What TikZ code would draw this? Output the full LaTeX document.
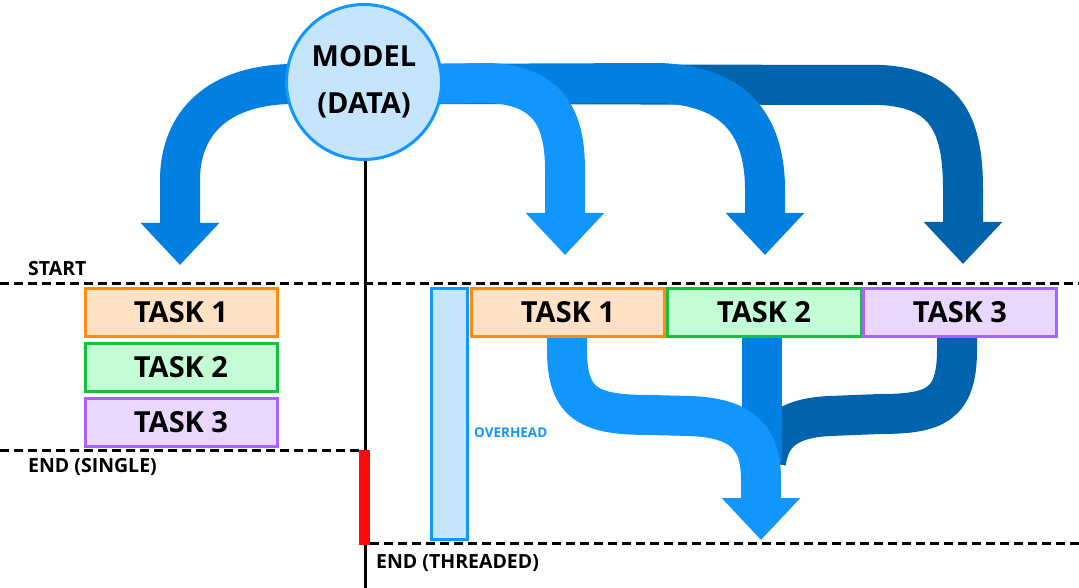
\documentclass[tikz,border=0pt]{standalone}
\usepackage{fontspec}
\setmainfont{Open Sans}
\usetikzlibrary{arrows.meta}
\definecolor{blueL}{HTML}{1195FF}
\definecolor{blueM}{HTML}{0280E2}
\definecolor{blueD}{HTML}{0063AE}
\definecolor{paleblue}{HTML}{C5E5FC}
\definecolor{edgeblue}{HTML}{1296FF}
\definecolor{orangeF}{HTML}{FFE1C5}
\definecolor{orangeB}{HTML}{FF8A14}
\definecolor{greenF}{HTML}{C3FDD5}
\definecolor{greenB}{HTML}{13C13E}
\definecolor{purpleF}{HTML}{E9D7FF}
\definecolor{purpleB}{HTML}{A863FF}
\definecolor{redbar}{HTML}{FF0A0A}
\tikzset{
  band/.style={line width=40pt},
  bandtip/.style={band,-{Triangle[length=42pt,width=76pt]}},
  taskbox/.style={draw,line width=3pt,inner sep=0pt,minimum height=48pt,font=\bfseries\fontsize{29}{29}\selectfont},
  dashline/.style={line width=3pt,dash pattern=on 9pt off 5pt},
  lbl/.style={font=\bfseries\fontsize{19.5}{19.5}\selectfont,anchor=base west,inner sep=0pt}
}
\begin{document}
\begin{tikzpicture}[x=1pt,y=-1pt]
\useasboundingbox (0,0) rectangle (1079,588);
% top bands
\coordinate (src) at (400,84);
\draw[bandtip,blueD] (src) -- (880,85) .. controls (950,88) and (963,130) .. (963,190) -- (963,264);
\draw[bandtip,blueM] (src) -- (660,83) .. controls (730,86) and (765,120) .. (765,190) -- (765,255);
\draw[bandtip,blueL] (src) -- (490,83) .. controls (550,86) and (565,120) .. (565,170) -- (565,255);
\draw[bandtip,blueM] (330,84) -- (290,84) .. controls (210,86) and (180,130) .. (180,180) -- (180,265);
% black line
\draw[line width=3pt] (365,160) coordinate (ltop) -- (365,588) coordinate (lbot);
% circle
\node[circle,draw=edgeblue,fill=paleblue,line width=3pt,minimum size=155pt,inner sep=0pt,
      font=\bfseries\fontsize{29}{47}\selectfont,align=center] (model) at (364,82) {MODEL\\(DATA)};
% dashed lines
\draw[dashline] (0,283) coordinate (s0) -- (1079,283) coordinate (s1);
\draw[dashline] (0,450) coordinate (e0) -- (362,450) coordinate (e1);
\draw[dashline] (370,543) coordinate (t0) -- (1079,543) coordinate (t1);
% red bar
\fill[redbar] (359,450) rectangle (370,545);
% labels
\node[lbl] (start) at (28,275) {START};
\node[lbl] (ends) at (28,472) {END (SINGLE)};
\node[lbl] (endt) at (376,568) {END (THREADED)};
% left tasks
\node[taskbox,draw=orangeB,fill=orangeF,minimum width=192pt] (l1) at (181,312) {TASK 1};
\node[taskbox,draw=greenB,fill=greenF,minimum width=192pt] (l2) at (181,367) {TASK 2};
\node[taskbox,draw=purpleB,fill=purpleF,minimum width=192pt] (l3) at (181,422) {TASK 3};
% overhead
\node[draw=edgeblue,fill=paleblue,line width=3pt,minimum width=36pt,minimum height=251pt,inner sep=0pt] (ovh) at (449,413.5) {};
\node[font=\bfseries\fontsize{13.5}{13.5}\selectfont,text=edgeblue,anchor=base west,inner sep=0pt] (ovt) at (474,437) {OVERHEAD};
% merge bands
\draw[band,blueD] (957,330) -- (957,350) .. controls (957,405) and (935,414) .. (880,414) -- (830,416) .. controls (785,418) and (770,435) .. (766,462);
\draw[band,blueM] (762,330) -- (762,462);
\draw[bandtip,blueL] (567,330) -- (567,350) .. controls (567,405) and (590,415) .. (650,415) -- (690,416) .. controls (745,418) and (761,440) .. (761,480) -- (761,540);
% right tasks
\node[taskbox,draw=orangeB,fill=orangeF,minimum width=193pt] (r1) at (568,312) {TASK 1};
\node[taskbox,draw=greenB,fill=greenF,minimum width=194pt] (r2) at (764,312) {TASK 2};
\node[taskbox,draw=purpleB,fill=purpleF,minimum width=193pt] (r3) at (960,312) {TASK 3};
\end{tikzpicture}
\end{document}
